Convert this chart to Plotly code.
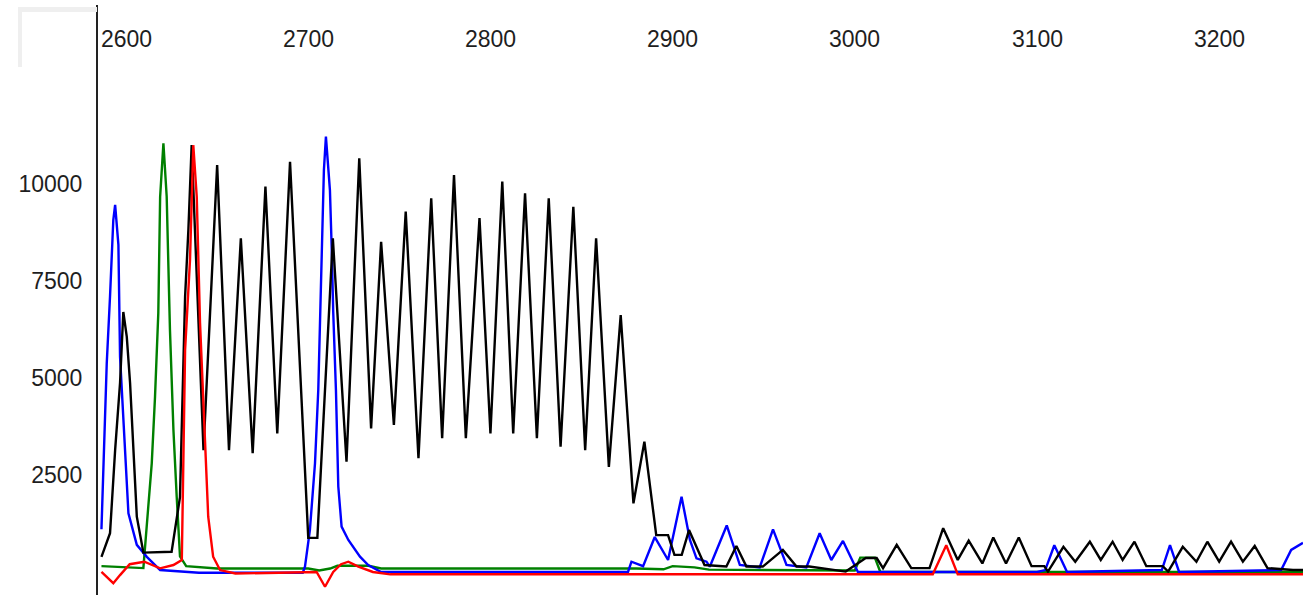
import plotly.graph_objects as go

# ---- data (scan position vs. signal intensity) ----
black_x = [2586.5, 2591.2, 2594, 2596.7, 2598.5, 2600.4, 2602.2, 2604, 2605.9, 2609.5, 2625,
           2629.6, 2630.9, 2632.4, 2634.2, 2636, 2642.5, 2650, 2656.5, 2663, 2669.5, 2676.5, 2683, 2690,
           2700, 2705, 2713.5, 2721, 2728, 2734.5, 2740, 2747, 2753.5, 2760.5, 2767.5, 2773.5, 2780,
           2786.5, 2794, 2800, 2806.5, 2812.5, 2819, 2825.5, 2832, 2838.5, 2845.5, 2852, 2858, 2865,
           2871.5, 2878.5, 2884.5, 2891, 2897.5, 2901, 2905, 2909, 2917.5, 2929.5, 2935, 2940.5, 2949.5,
           2960.5, 2968, 2975, 2995, 3006, 3012, 3015.5, 3023, 3031, 3041, 3048.5, 3056.5, 3062.5, 3070,
           3076, 3083, 3090, 3097, 3104, 3106, 3114.5, 3121, 3129, 3135, 3141.5, 3147, 3153.5, 3160,
           3169, 3172, 3180, 3187.5, 3193.5, 3200, 3206.5, 3213, 3219.5, 3226.5, 3240.5, 3246]
black_y = [390, 1000, 3140, 4870, 6700, 6060, 4870, 3140, 1425, 500, 520,
           1930, 4510, 7090, 8810, 11000, 3140, 10490, 3140, 8600, 3060, 9930, 3570, 10570,
           880, 880, 8600, 2840, 10660, 3700, 8510, 3790, 9290, 2930, 9630, 3450, 10230,
           3450, 9120, 3570, 10060, 3570, 9760, 3450, 9630, 3230, 9410, 3140, 8600, 2710,
           6620, 1770, 3360, 950, 950, 440, 440, 1080, 180, 140, 670, 140, 140,
           570, 140, 140, 10, 360, 360, 100, 700, 100, 100, 1130, 310, 810, 220,
           890, 220, 890, 150, 150, 10, 650, 265, 780, 310, 780, 310, 780, 150,
           150, 10, 650, 265, 780, 265, 780, 265, 670, 100, 50, 50]

blue_x = [2586.5, 2589.4, 2591.2, 2593, 2594, 2595.8, 2596.7, 2599.5, 2601.3, 2605.9, 2611.4, 2618.7,
          2640, 2697,
          2698.2, 2700.9, 2703.7, 2705.5, 2707.4, 2708.6, 2709.7, 2711.9, 2712.9, 2713.7, 2715.2,
          2716.5, 2718.3, 2722, 2728.4, 2732.9, 2740, 2875.5, 2877.4, 2883.8, 2890.2, 2897.5, 2904.9,
          2909.5, 2913.1, 2918.6, 2920.4, 2929.7, 2936.9, 2947.8, 2955.1, 2962.5, 2973.4, 2980.7,
          2987.1, 2993.5, 3001.7, 3100, 3104.5, 3109.5, 3113, 3116.5, 3168.5, 3173, 3178, 3234,
          3239.5, 3246]
blue_y = [1100, 5380, 7100, 9070, 9460, 8430, 5550, 3140, 1510, 700, 390, 50,
          -20, -20,
          137, 1080, 2800, 4690, 8220, 10360, 11220, 9840, 8300, 6710, 4690,
          2200, 1170, 825, 394, 180, 0, 0, 265, 150, 900, 309, 1940,
          825, 353, 265, 137, 1200, 180, 120, 1100, 180, 120, 1000,
          309, 800, 0, 0, 50, 690, 350, 0, 50, 690, 0, 50,
          570, 750]

green_x = [2586.5, 2600, 2609.5, 2614.1, 2615.9, 2617.7, 2618.7, 2620.5, 2622.3, 2624.1, 2626,
           2627.8, 2629.6, 2633, 2650, 2700, 2706, 2712, 2716, 2733, 2740, 2880, 2895, 2900, 2912,
           2920, 3000, 3003, 3011, 3014, 3246]
green_y = [150, 120, 100, 2800, 4520, 6670, 9670, 11050, 9670, 6240, 3660,
           1940, 400, 150, 90, 90, 40, 90, 160, 160, 90, 90, 70, 150, 120,
           60, 40, 370, 370, 0, 0]

red_x = [2586.5, 2593, 2596.7, 2602, 2610, 2618.7, 2626, 2630.6, 2632.4, 2635.1, 2636.9, 2638.8,
         2640.6, 2643.3, 2645.1, 2647.8, 2651.6, 2660, 2700, 2704.6, 2709.2, 2713.7, 2718, 2722,
         2727.5, 2735.5, 2745, 3042.8, 3050.2, 3056.5, 3246]
red_y = [0, -290, -80, 200, 265, 95, 180, 310, 5720, 8040, 11000, 9670,
         6420, 3140, 1425, 394, 50, -40, 0, 0, -380, 0, 200, 265,
         137, 0, -60, -60, 690, -60, -60]

x_ticks = [2600, 2700, 2800, 2900, 3000, 3100, 3200]
x_tick_text = ["2600", "2700", "2800", "2900", "3000", "3100", "3200"]
y_ticks = [2500, 5000, 7500, 10000]
y_tick_text = ["2500", "5000", "7500", "10000"]

FONT = "Liberation Sans, Arial, sans-serif"
FSIZE = 23
TXT = "#1e1e1e"

fig = go.Figure()
for xs, ys, col in [(green_x, green_y, "#008000"), (blue_x, blue_y, "#0000ff"),
                    (black_x, black_y, "#000000"), (red_x, red_y, "#ff0000")]:
    fig.add_trace(go.Scatter(x=xs, y=ys, mode="lines",
                             line=dict(color=col, width=2.4),
                             hoverinfo="skip", showlegend=False))

annotations = [dict(x=xv, y=0.9424, xref="x", yref="paper", text=t, showarrow=False,
                    xanchor="center", yanchor="middle",
                    font=dict(family=FONT, size=FSIZE, color=TXT))
               for xv, t in zip(x_ticks, x_tick_text)]

fig.update_layout(
    width=1303, height=595,
    margin=dict(l=98, r=0, t=5, b=0),
    paper_bgcolor="white", plot_bgcolor="white",
    showlegend=False,
    font=dict(family=FONT, size=FSIZE, color=TXT),
    xaxis=dict(range=[2584.6, 3246.0], showticklabels=False,
               showgrid=False, zeroline=False, showline=False, ticks=""),
    yaxis=dict(range=[-593, 14612], tickvals=y_ticks, ticktext=y_tick_text,
               showgrid=False, zeroline=False, showline=True, linecolor="#222222", linewidth=2,
               ticks="", ticklabelstandoff=9),
    annotations=annotations,
    shapes=[
        dict(type="rect", xref="paper", yref="paper", x0=-0.0664, x1=-0.0008, y0=0.988, y1=0.9966,
             fillcolor="#efefef", line=dict(width=0), layer="above"),
        dict(type="rect", xref="paper", yref="paper", x0=-0.0664, x1=-0.0631, y0=0.8949, y1=0.9966,
             fillcolor="#efefef", line=dict(width=0), layer="above"),
    ],
)

fig.write_html("out.html", config={"displayModeBar": False},
               post_script="document.body.style.margin='0px';")
